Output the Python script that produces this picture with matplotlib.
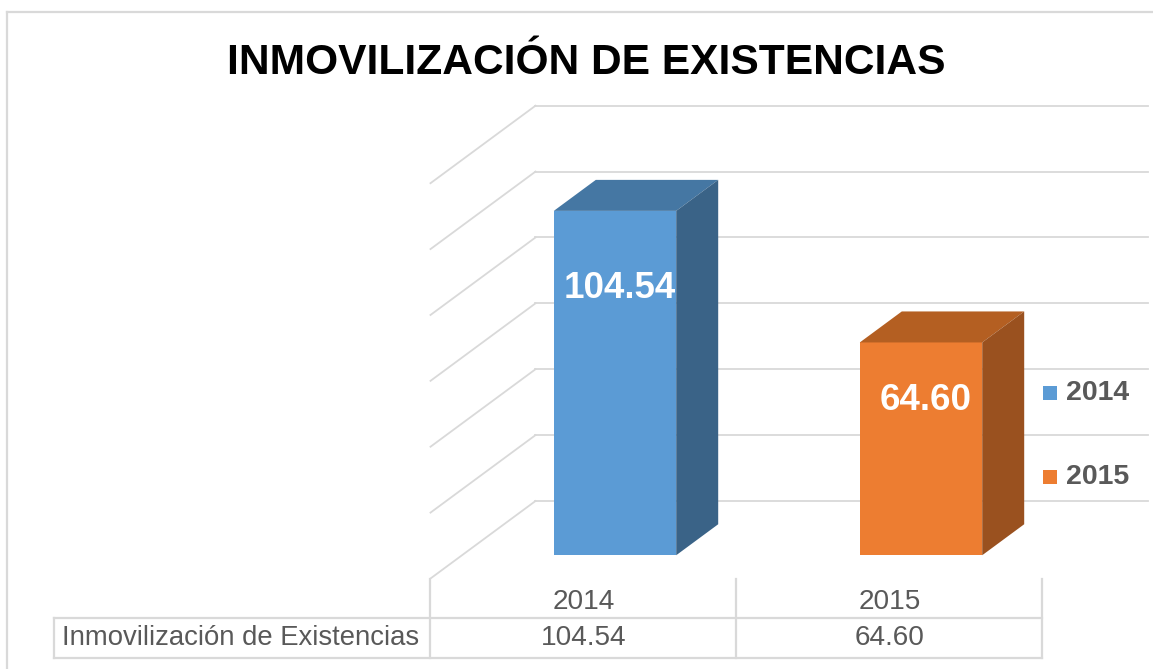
import matplotlib
matplotlib.use("Agg")
import matplotlib.pyplot as plt
from matplotlib.patches import Polygon, Rectangle

plt.rcParams["font.family"] = ["Liberation Sans", "DejaVu Sans"]

# ---- data ----
TITLE = "INMOVILIZACIÓN DE EXISTENCIAS"
ROW_LABEL = "Inmovilización de Existencias"
years = ["2014", "2015"]
values = [104.54, 64.60]
value_text = ["104.54", "64.60"]
y_max, y_step = 120, 20

# ---- styles ----
FRONT = ["#5B9BD5", "#ED7D31"]
TOP = ["#4577A3", "#B45F22"]
SIDE = ["#3A6387", "#9A511F"]
GRID = "#D9D9D9"
TXT = "#595959"

W, H = 1153, 669
PX_CAT, PX_VAL = 306.0, 395.3 / y_max   # pixels per category / per value unit
X0_PX, Y0_PX = 688.5, 501.0             # category 0, value 0 on the back wall (pixels from top-left)
DX, DY = -105.0 / PX_CAT, -77.5 / PX_VAL  # floor depth vector (back -> front) in data units
BAR_HALF = 0.2
D_FRONT, D_BACK = 0.7, 0.3

fig = plt.figure(figsize=(W / 100, H / 100), dpi=100)
ax = fig.add_axes([0, 0, 1, 1])
ax.set_xlim(-X0_PX / PX_CAT, (W - X0_PX) / PX_CAT)
ax.set_ylim((Y0_PX - H) / PX_VAL, Y0_PX / PX_VAL)
ax.axis("off")

# chart border (top + left)
fig.add_artist(plt.Line2D([7 / W, 1], [1 - 12 / H] * 2, color=GRID, lw=1.6))
fig.add_artist(plt.Line2D([7 / W] * 2, [0, 1 - 12 / H], color=GRID, lw=1.6))

# gridlines: back wall + left wall
n = len(years)
for g in range(0, y_max + 1, y_step):
    ax.plot([-0.5, n - 0.5], [g, g], color=GRID, lw=1.3, zorder=1)
    ax.plot([-0.5 + DX, -0.5], [g + DY, g], color=GRID, lw=1.3, zorder=1)

# 3D bars
for i, v in enumerate(values):
    xl, xr = i - BAR_HALF, i + BAR_HALF
    fx, fy = D_FRONT * DX, D_FRONT * DY
    bx, by = D_BACK * DX, D_BACK * DY
    ax.add_patch(Rectangle((xl + fx, fy), xr - xl, v, facecolor=FRONT[i],
                           edgecolor="none", zorder=3))
    ax.add_patch(Polygon([(xl + fx, v + fy), (xr + fx, v + fy), (xr + bx, v + by),
                          (xl + bx, v + by)], closed=True, facecolor=TOP[i],
                         edgecolor="none", zorder=3))
    ax.add_patch(Polygon([(xr + fx, fy), (xr + bx, by), (xr + bx, v + by),
                          (xr + fx, v + fy)], closed=True, facecolor=SIDE[i],
                         edgecolor="none", zorder=3))
    ax.text(i + fx + 0.015, 0.851 * v - 7.9 + fy, value_text[i], color="white",
            fontsize=26.5, fontweight="bold", ha="center", va="center", zorder=4)

# data table
row_h = 12.0
t_top, t_mid, t_bot = DY, DY - row_h, DY - 2 * row_h
col_x = [-0.5 + DX + k for k in range(n + 1)]
lab_x = (54 - X0_PX) / PX_CAT
tkw = dict(color=GRID, lw=1.6, zorder=2)
for cx in col_x:
    ax.plot([cx, cx], [t_top, t_bot], **tkw)
ax.plot([lab_x, lab_x], [t_mid, t_bot], **tkw)
ax.plot([lab_x, col_x[-1]], [t_mid, t_mid], **tkw)
ax.plot([lab_x, col_x[-1]], [t_bot, t_bot], **tkw)
for i in range(n):
    ax.text(i + DX, t_top - 7.2, years[i], color=TXT, fontsize=20.2,
            ha="center", va="center")
    ax.text(i + DX, t_mid - 6.0, value_text[i], color=TXT, fontsize=20.2,
            ha="center", va="center")
ax.text(lab_x + 8 / PX_CAT, t_mid - 6.0, ROW_LABEL, color=TXT, fontsize=19.8,
        ha="left", va="center")

# legend
for i, yr in enumerate(years):
    yc = 393 + 84 * i
    fig.add_artist(Rectangle((1043 / W, 1 - (yc + 7) / H), 14 / W, 14 / H,
                             transform=fig.transFigure, facecolor=FRONT[i],
                             edgecolor="none"))
    fig.text(1066 / W, 1 - yc / H, yr, color=TXT, fontsize=20.5,
             fontweight="bold", ha="left", va="center")

fig.text(586 / W, 1 - 74 / H, TITLE, fontsize=30.6, fontweight="bold",
         color="black", ha="center", va="baseline")

fig.savefig("out.png", dpi=100, facecolor="white")
